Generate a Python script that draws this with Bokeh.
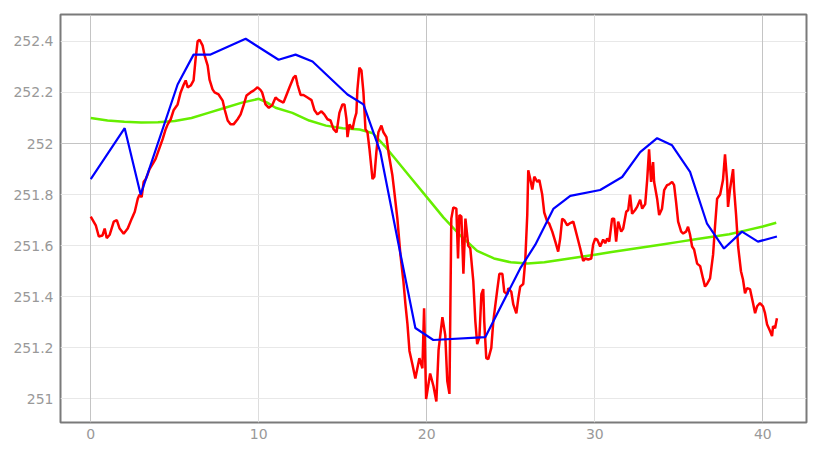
from bokeh.plotting import figure
from bokeh.models import FixedTicker, Grid, Range1d
from bokeh.embed import file_html
from bokeh.resources import INLINE

# ---- data ----
red_x = [0.0, 0.3, 0.48, 0.7, 0.83, 0.95, 1.13, 1.37, 1.55, 1.72, 1.96, 2.2, 2.44, 2.62, 2.8, 2.9,
         3.03, 3.15, 3.27, 3.39, 3.5, 3.69, 3.86, 4.04, 4.28, 4.46, 4.58, 4.76, 4.93, 5.17, 5.35,
         5.53, 5.65, 5.77, 5.95, 6.12, 6.24, 6.36, 6.48, 6.66, 6.78, 6.96, 7.07, 7.25, 7.37, 7.61,
         7.85, 7.97, 8.15, 8.32, 8.5, 8.74, 8.92, 9.1, 9.27, 9.51, 9.69, 9.93, 10.1, 10.2, 10.4,
         10.6, 10.8, 11.0, 11.18, 11.47, 11.65, 11.83, 12.07, 12.19, 12.31, 12.49, 12.66, 12.9,
         13.14, 13.32, 13.5, 13.73, 13.9, 14.09, 14.27, 14.45, 14.63, 14.8, 14.98, 15.1, 15.22,
         15.28, 15.4, 15.58, 15.7, 15.81, 15.87, 15.99, 16.11, 16.23, 16.35, 16.47, 16.59, 16.77,
         16.88, 17.0, 17.12, 17.3, 17.42, 17.6, 17.72, 17.95, 18.07, 18.25, 18.43, 18.61, 18.73,
         18.85, 18.97, 19.14, 19.32, 19.56, 19.74, 19.84, 19.96, 20.2, 20.4, 20.57, 20.7, 20.93,
         21.1, 21.22, 21.35, 21.46, 21.58, 21.76, 21.86, 21.94, 22.06, 22.18, 22.3, 22.47, 22.59,
         22.77, 22.89, 23.0, 23.13, 23.25, 23.36, 23.42, 23.54, 23.66, 23.84, 23.96, 24.2, 24.32,
         24.5, 24.61, 24.79, 24.85, 25.03, 25.15, 25.33, 25.45, 25.56, 25.74, 25.86, 25.98, 26.04,
         26.16, 26.28, 26.4, 26.58, 26.7, 26.87, 26.99, 27.17, 27.29, 27.47, 27.65, 27.82, 27.94,
         28.06, 28.18, 28.36, 28.48, 28.72, 28.83, 28.95, 29.13, 29.31, 29.43, 29.61, 29.79, 29.9,
         30.02, 30.14, 30.32, 30.5, 30.62, 30.74, 30.86, 31.03, 31.15, 31.27, 31.39, 31.57, 31.69,
         31.87, 31.99, 32.1, 32.22, 32.4, 32.52, 32.7, 32.82, 33.0, 33.12, 33.23, 33.35, 33.47,
         33.53, 33.71, 33.83, 34.0, 34.13, 34.3, 34.42, 34.6, 34.72, 34.84, 34.96, 35.14, 35.26,
         35.43, 35.55, 35.67, 35.79, 35.91, 36.09, 36.27, 36.44, 36.56, 36.68, 36.86, 37.04, 37.16,
         37.28, 37.46, 37.63, 37.75, 37.87, 37.93, 38.05, 38.23, 38.29, 38.41, 38.53, 38.7, 38.82,
         38.94, 39.06, 39.24, 39.42, 39.54, 39.66, 39.83, 40.01, 40.13, 40.25, 40.43, 40.55, 40.61,
         40.73, 40.84]
red_y = [251.714, 251.68, 251.636, 251.64, 251.667, 251.63, 251.643, 251.694, 251.70, 251.667,
         251.647, 251.667, 251.706, 251.733, 251.784, 251.80, 251.79, 251.85, 251.86, 251.88,
         251.90, 251.92, 251.94, 251.973, 252.017, 252.056, 252.075, 252.095, 252.13, 252.153,
         252.20, 252.23, 252.247, 252.22, 252.227, 252.247, 252.33, 252.40, 252.406, 252.383,
         252.344, 252.305, 252.25, 252.212, 252.20, 252.192, 252.168, 252.133, 252.09, 252.075,
         252.075, 252.095, 252.114, 252.15, 252.188, 252.20, 252.207, 252.22, 252.21, 252.20,
         252.153, 252.14, 252.15, 252.18, 252.17, 252.16, 252.19, 252.22, 252.258, 252.266,
         252.23, 252.19, 252.19, 252.18, 252.17, 252.13, 252.114, 252.126, 252.114, 252.095,
         252.09, 252.056, 252.044, 252.12, 252.153, 252.153, 252.095, 252.025, 252.075, 252.056,
         252.095, 252.12, 252.21, 252.297, 252.286, 252.20, 252.056, 252.044, 251.978, 251.861,
         251.87, 251.966, 252.044, 252.07, 252.044, 252.025, 251.966, 251.877, 251.81, 251.706,
         251.565, 251.46, 251.37, 251.293, 251.188, 251.137, 251.08, 251.16, 251.12, 251.355,
         251.0, 251.1, 251.05, 250.99, 251.19, 251.32, 251.25, 251.07, 251.02, 251.706, 251.75,
         251.745, 251.55, 251.72, 251.714, 251.49, 251.706, 251.6, 251.59, 251.46, 251.305,
         251.215, 251.24, 251.41, 251.43, 251.305, 251.16, 251.156, 251.2, 251.305, 251.43,
         251.49, 251.49, 251.42, 251.41, 251.434, 251.42, 251.37, 251.335, 251.395, 251.44,
         251.45, 251.54, 251.72, 251.895, 251.86, 251.82, 251.87, 251.85, 251.857, 251.80,
         251.73, 251.694, 251.686, 251.655, 251.616, 251.577, 251.628, 251.706, 251.70, 251.68,
         251.686, 251.694, 251.667, 251.636, 251.59, 251.54, 251.55, 251.546, 251.55, 251.604,
         251.628, 251.624, 251.597, 251.624, 251.61, 251.628, 251.616, 251.706, 251.706, 251.616,
         251.694, 251.655, 251.667, 251.733, 251.74, 251.80, 251.725, 251.74, 251.752, 251.78,
         251.745, 251.763, 251.86, 251.977, 251.85, 251.927, 251.85, 251.784, 251.72, 251.745,
         251.818, 251.837, 251.84, 251.85, 251.837, 251.77, 251.694, 251.655, 251.648, 251.655,
         251.674, 251.643, 251.597, 251.585, 251.53, 251.52, 251.472, 251.44, 251.45, 251.472,
         251.565, 251.68, 251.784, 251.80, 251.857, 251.958, 251.857, 251.752, 251.822, 251.90,
         251.822, 251.72, 251.597, 251.50, 251.468, 251.414, 251.434, 251.43, 251.375, 251.336,
         251.363, 251.375, 251.363, 251.336, 251.293, 251.266, 251.246, 251.285, 251.277, 251.316]

blue_x = [0.0, 2.02, 2.97, 5.17, 6.12, 7.13, 9.22, 11.18, 12.19, 13.2, 15.28, 16.23, 17.24,
          18.25, 19.32, 20.39, 23.48, 25.56, 26.46, 27.53, 28.54, 30.32, 31.63, 32.7, 33.71,
          34.6, 35.67, 36.68, 37.69, 38.76, 39.71, 40.84]
blue_y = [251.861, 252.06, 251.80, 252.231, 252.348, 252.348, 252.41, 252.328, 252.348, 252.321,
          252.192, 252.153, 251.966, 251.628, 251.278, 251.231, 251.242, 251.511, 251.604,
          251.744, 251.795, 251.818, 251.869, 251.966, 252.021, 251.993, 251.889, 251.686,
          251.589, 251.655, 251.616, 251.636]

green_x = [0, 1, 2, 3, 4, 5, 6, 7, 8, 9, 10, 10.5, 11, 12, 13, 14, 15, 16, 16.8, 17.5, 18, 19,
           20, 21, 22, 23, 24, 25, 26, 27, 28, 29, 30, 31, 32, 33, 34, 35, 36, 37, 38, 39, 40, 40.8]
green_y = [252.10, 252.09, 252.085, 252.082, 252.083, 252.088, 252.10, 252.12, 252.14, 252.16,
           252.175, 252.16, 252.14, 252.12, 252.09, 252.07, 252.06, 252.055, 252.04, 251.99,
           251.95, 251.87, 251.79, 251.71, 251.64, 251.58, 251.55, 251.535, 251.53, 251.535,
           251.545, 251.555, 251.565, 251.575, 251.585, 251.595, 251.605, 251.615, 251.625,
           251.635, 251.645, 251.66, 251.675, 251.69]

x_ticks = [0, 10, 20, 30, 40]
y_ticks = [251.0, 251.2, 251.4, 251.6, 251.8, 252.0, 252.2, 252.4]
y_labels = ["251", "251.2", "251.4", "251.6", "251.8", "252", "252.2", "252.4"]

# ---- figure ----
p = figure(width=813, height=448, output_backend="svg", toolbar_location=None,
           x_range=Range1d(-1.8, 42.6), y_range=Range1d(250.908, 252.505),
           min_border_left=60, min_border_right=7, min_border_top=14, min_border_bottom=26)
p.background_fill_color = "white"
p.border_fill_color = "white"
p.outline_line_color = "#7a7a7a"
p.outline_line_width = 2

for ax in (p.xaxis[0], p.yaxis[0]):
    ax.axis_line_color = None
    ax.major_tick_line_color = None
    ax.minor_tick_line_color = None
    ax.major_tick_out = 0
    ax.major_tick_in = 0
    ax.minor_tick_out = 0
    ax.minor_tick_in = 0
    ax.major_label_text_color = "#999999"
    ax.major_label_text_font = "DejaVu Sans"
    ax.major_label_text_font_size = "14px"
p.xaxis.ticker = FixedTicker(ticks=x_ticks)
p.yaxis.ticker = FixedTicker(ticks=y_ticks)
p.yaxis.major_label_overrides = {t: l for t, l in zip(y_ticks, y_labels)}
p.xaxis.major_label_standoff = 6
p.yaxis.major_label_standoff = 7

p.xgrid.ticker = FixedTicker(ticks=[10, 30])
p.xgrid.grid_line_color = "#dddddd"
p.ygrid.ticker = FixedTicker(ticks=[t for t in y_ticks if t != 252.0])
p.ygrid.grid_line_color = "#e8e8e8"
p.add_layout(Grid(dimension=0, ticker=FixedTicker(ticks=[0, 20, 40]), grid_line_color="#c4c4c4"))
p.add_layout(Grid(dimension=1, ticker=FixedTicker(ticks=[252.0]), grid_line_color="#c4c4c4"))

p.line(green_x, green_y, line_color="#66ee00", line_width=2.5)
p.line(red_x, red_y, line_color="#ff0000", line_width=2.5)
p.line(blue_x, blue_y, line_color="#0000ff", line_width=2.2)

open("out.html", "w").write(file_html(p, INLINE))
